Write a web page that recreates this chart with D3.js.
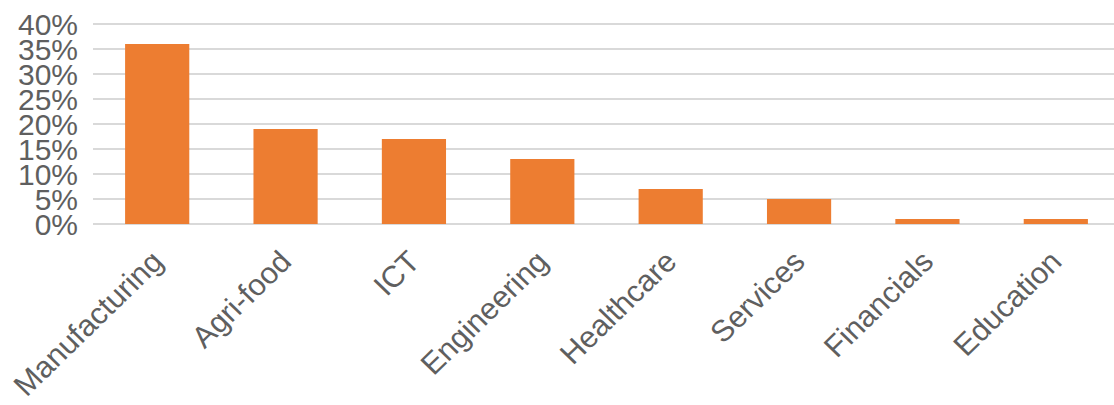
<!DOCTYPE html>
<html>
<head>
<meta charset="utf-8">
<script src="https://cdn.jsdelivr.net/npm/d3@7"></script>
<style>
  html, body { margin: 0; padding: 0; background: #fff; }
  svg { display: block; }
  text { font-family: "Liberation Sans", Arial, Helvetica, sans-serif; fill: #5f5f5f; }
</style>
</head>
<body>
<svg id="chart" width="1114" height="405"></svg>
<script>
// Share of companies by sector
const sectors = ["Manufacturing", "Agri-food", "ICT", "Engineering", "Healthcare", "Services", "Financials", "Education"];
const shares = [0.36, 0.19, 0.17, 0.13, 0.07, 0.05, 0.01, 0.01];
const yTicks = [0, 0.05, 0.10, 0.15, 0.20, 0.25, 0.30, 0.35, 0.40];

const svg = d3.select("#chart");
const W = 1114, H = 405;

const x = d3.scaleBand()
  .domain(sectors)
  .range([93, 1120])
  .paddingInner(0.5)
  .paddingOuter(0.25);

const y = d3.scaleLinear()
  .domain([0, 0.40])
  .range([224, 24]);

const fmt = d3.format(".0%");

// horizontal gridlines
svg.append("g")
  .selectAll("line")
  .data(yTicks)
  .join("line")
  .attr("x1", 93)
  .attr("x2", W)
  .attr("y1", d => y(d))
  .attr("y2", d => y(d))
  .attr("stroke", "#d9d9d9")
  .attr("stroke-width", 2);

// y tick labels
svg.append("g")
  .selectAll("text")
  .data(yTicks)
  .join("text")
  .attr("x", 78)
  .attr("y", d => y(d))
  .attr("dy", "0.35em")
  .attr("text-anchor", "end")
  .attr("font-size", 30)
  .text(d => fmt(d));

// bars
svg.append("g")
  .selectAll("rect")
  .data(sectors)
  .join("rect")
  .attr("x", d => x(d))
  .attr("width", x.bandwidth())
  .attr("y", (d, i) => y(shares[i]))
  .attr("height", (d, i) => y(0) - y(shares[i]))
  .attr("fill", "#ed7d31");

// rotated category labels
svg.append("g")
  .selectAll("text")
  .data(sectors)
  .join("text")
  .attr("transform", d => `translate(${x(d) + x.bandwidth() / 2},256) scale(1.03,1) rotate(-45)`)
  .attr("dy", "0.35em")
  .attr("text-anchor", "end")
  .attr("font-size", 30)
  .text(d => d);
</script>
</body>
</html>
